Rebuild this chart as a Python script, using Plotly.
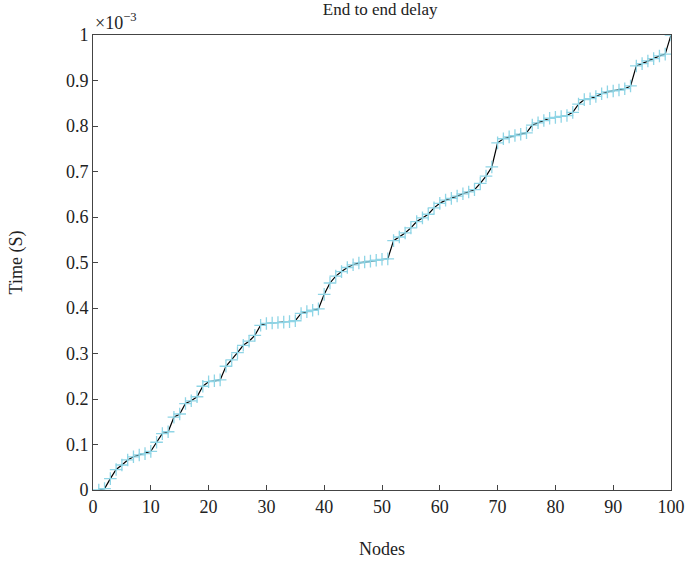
import plotly.graph_objects as go

nodes = list(range(1, 101))
delay_ms = [
    0.000, 0.003, 0.025, 0.045, 0.055, 0.066, 0.073, 0.077, 0.080, 0.085,
    0.105, 0.124, 0.128, 0.160, 0.167, 0.190, 0.196, 0.205, 0.228, 0.238,
    0.240, 0.242, 0.272, 0.286, 0.302, 0.318, 0.327, 0.340, 0.362, 0.366,
    0.367, 0.368, 0.369, 0.370, 0.372, 0.388, 0.392, 0.395, 0.398, 0.430,
    0.455, 0.470, 0.480, 0.489, 0.495, 0.499, 0.501, 0.503, 0.505, 0.507,
    0.508, 0.548, 0.556, 0.565, 0.576, 0.590, 0.598, 0.606, 0.620, 0.630,
    0.637, 0.641, 0.646, 0.651, 0.655, 0.660, 0.674, 0.690, 0.710, 0.763,
    0.772, 0.776, 0.779, 0.782, 0.785, 0.802, 0.807, 0.812, 0.817, 0.819,
    0.821, 0.823, 0.830, 0.848, 0.858, 0.860, 0.865, 0.871, 0.875, 0.877,
    0.879, 0.882, 0.888, 0.932, 0.937, 0.943, 0.948, 0.954, 0.958, 1.000,
]
x_ticks = [0, 10, 20, 30, 40, 50, 60, 70, 80, 90, 100]
y_ticks = [0, 0.1, 0.2, 0.3, 0.4, 0.5, 0.6, 0.7, 0.8, 0.9, 1]

FONT = "Liberation Serif"

fig = go.Figure()
fig.add_trace(go.Scatter(
    x=nodes, y=delay_ms, mode="lines+markers",
    line=dict(color="black", width=1.2),
    marker=dict(symbol="cross-thin", size=9, color="#8fd5e6",
                line=dict(color="#8fd5e6", width=1.3)),
    showlegend=False,
))

axis_common = dict(
    showgrid=False, zeroline=False, showline=True, linecolor="#444",
    linewidth=1, mirror=True, ticks="inside", ticklen=5, tickcolor="#444",
    automargin=False,
    tickfont=dict(family=FONT, size=18, color="#222"),
)
fig.update_xaxes(range=[0, 100], tickvals=x_ticks,
                 title=dict(text="Nodes", font=dict(family=FONT, size=18, color="#222"), standoff=26),
                 **axis_common)
fig.update_yaxes(range=[0, 1], tickvals=y_ticks,
                 title=dict(text="Time (S)", font=dict(family=FONT, size=18, color="#222"), standoff=38),
                 **axis_common)

fig.update_layout(
    width=685, height=561,
    margin=dict(l=93, r=14, t=35, b=71),
    paper_bgcolor="white", plot_bgcolor="white",
    font=dict(family=FONT, color="#222"),
    title=dict(text="End to end delay", x=0.555, xanchor="center", y=0.995, yanchor="top",
               font=dict(family=FONT, size=17, color="#222")),
    annotations=[dict(text="×10<sup>−3</sup>", xref="paper", yref="paper",
                      x=0.0, y=1.0, xanchor="left", yanchor="bottom", yshift=0,
                      showarrow=False, font=dict(family=FONT, size=18, color="#222"))],
)

fig.write_html("out.html")
